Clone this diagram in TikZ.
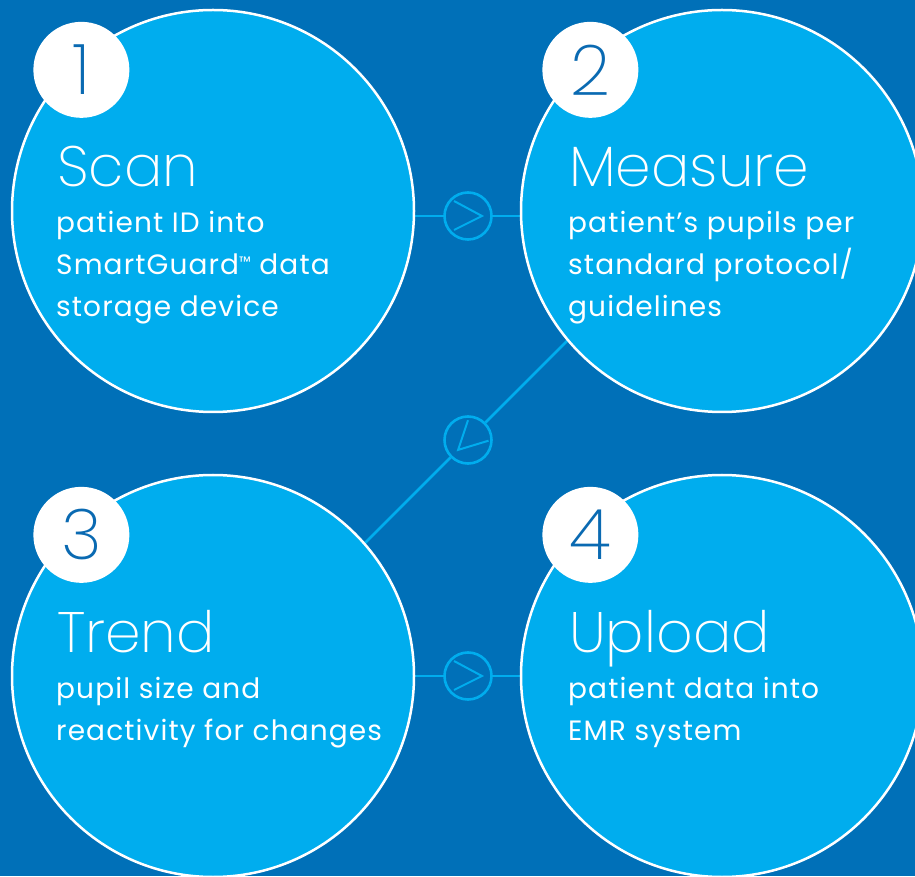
\documentclass[tikz,border=0pt]{standalone}
\usepackage{fontspec}
\setmainfont{Poppins}
\newfontfamily\thinfont{Poppins ExtraLight}
\usetikzlibrary{backgrounds}
\definecolor{deepblue}{HTML}{0070B8}
\definecolor{skyblue}{HTML}{00ADEE}
\definecolor{digitblue}{HTML}{0A6AB2}

\begin{document}
\begin{tikzpicture}[x=1pt, y=1pt,
    stage/.style={circle, fill=skyblue, draw=white, line width=2.5pt,
        minimum size=402pt, inner sep=0pt},
    badge/.style={circle, fill=white, minimum size=96pt, inner sep=0pt,
        text=digitblue, font=\thinfont\fontsize{70}{70}\selectfont},
    title/.style={anchor=base west, inner sep=0pt, text=white,
        font=\thinfont\fontsize{57}{57}\selectfont},
    blurb/.style={anchor=base west, inner sep=0pt, text=white, align=left,
        font=\fontsize{28}{42}\selectfont\addfontfeatures{LetterSpace=4}},
    ring/.style={circle, draw=skyblue, fill=deepblue, line width=2.6pt,
        minimum size=47pt, inner sep=0pt},
    link/.style={draw=skyblue, line width=2.6pt},
    chevron/.pic={\draw[skyblue, line width=2pt] (-14,15) -- (14,0) -- (-14,-14);}
    ]
    \useasboundingbox (0,0) rectangle (915,876);
    \begin{pgfonlayer}{background}
        \fill[deepblue] (0,0) rectangle (915,876);
    \end{pgfonlayer}
    \clip (0,0) rectangle (915,876);

    \node[stage] (s1) at (213,665) {};
    \node[stage] (s2) at (722,665) {};
    \node[stage] (s3) at (213,200) {};
    \node[stage] (s4) at (722,200) {};

    \node[ring] (r12) at (468,660) {};
    \node[ring] (r23) at (468,436) {};
    \node[ring] (r34) at (468,200) {};
    \pic at (r12) {chevron};
    \pic[rotate=225] at (r23) {chevron};
    \pic at (r34) {chevron};

    \begin{pgfonlayer}{background}
        \draw[link] (s1.center |- r12) -- (s2.center |- r12);
        \draw[link] (s3.center |- r34) -- (s4.center |- r34);
        \draw[link] (r23) -- +(45:200);
        \draw[link] (r23) -- +(225:200);
    \end{pgfonlayer}

    \node[badge] (b1) at ([shift={(133:193)}]s1.center) {1};
    \node[badge] (b2) at ([shift={(133:193)}]s2.center) {2};
    \node[badge] (b3) at ([shift={(133:193)}]s3.center) {3};
    \node[badge] (b4) at ([shift={(133:193)}]s4.center) {4};

    \node[title] (t1) at (57,689) {Scan};
    \node[title] (t2) at (569,689) {Measure};
    \node[title] (t3) at (57,224) {Trend};
    \node[title] (t4) at (569,224) {Upload};

    \node[blurb] (d1) at (56,559) {patient ID into\\
        SmartGuard{\fontsize{15}{15}\selectfont\raisebox{7pt}{™}} data\\storage device};
    \node[blurb] (d2) at (568,559) {patient’s pupils per\\standard protocol/\\guidelines};
    \node[blurb] (d3) at (56,136) {pupil size and\\reactivity for changes};
    \node[blurb] (d4) at (568,136) {patient data into\\EMR system};
\end{tikzpicture}
\end{document}
